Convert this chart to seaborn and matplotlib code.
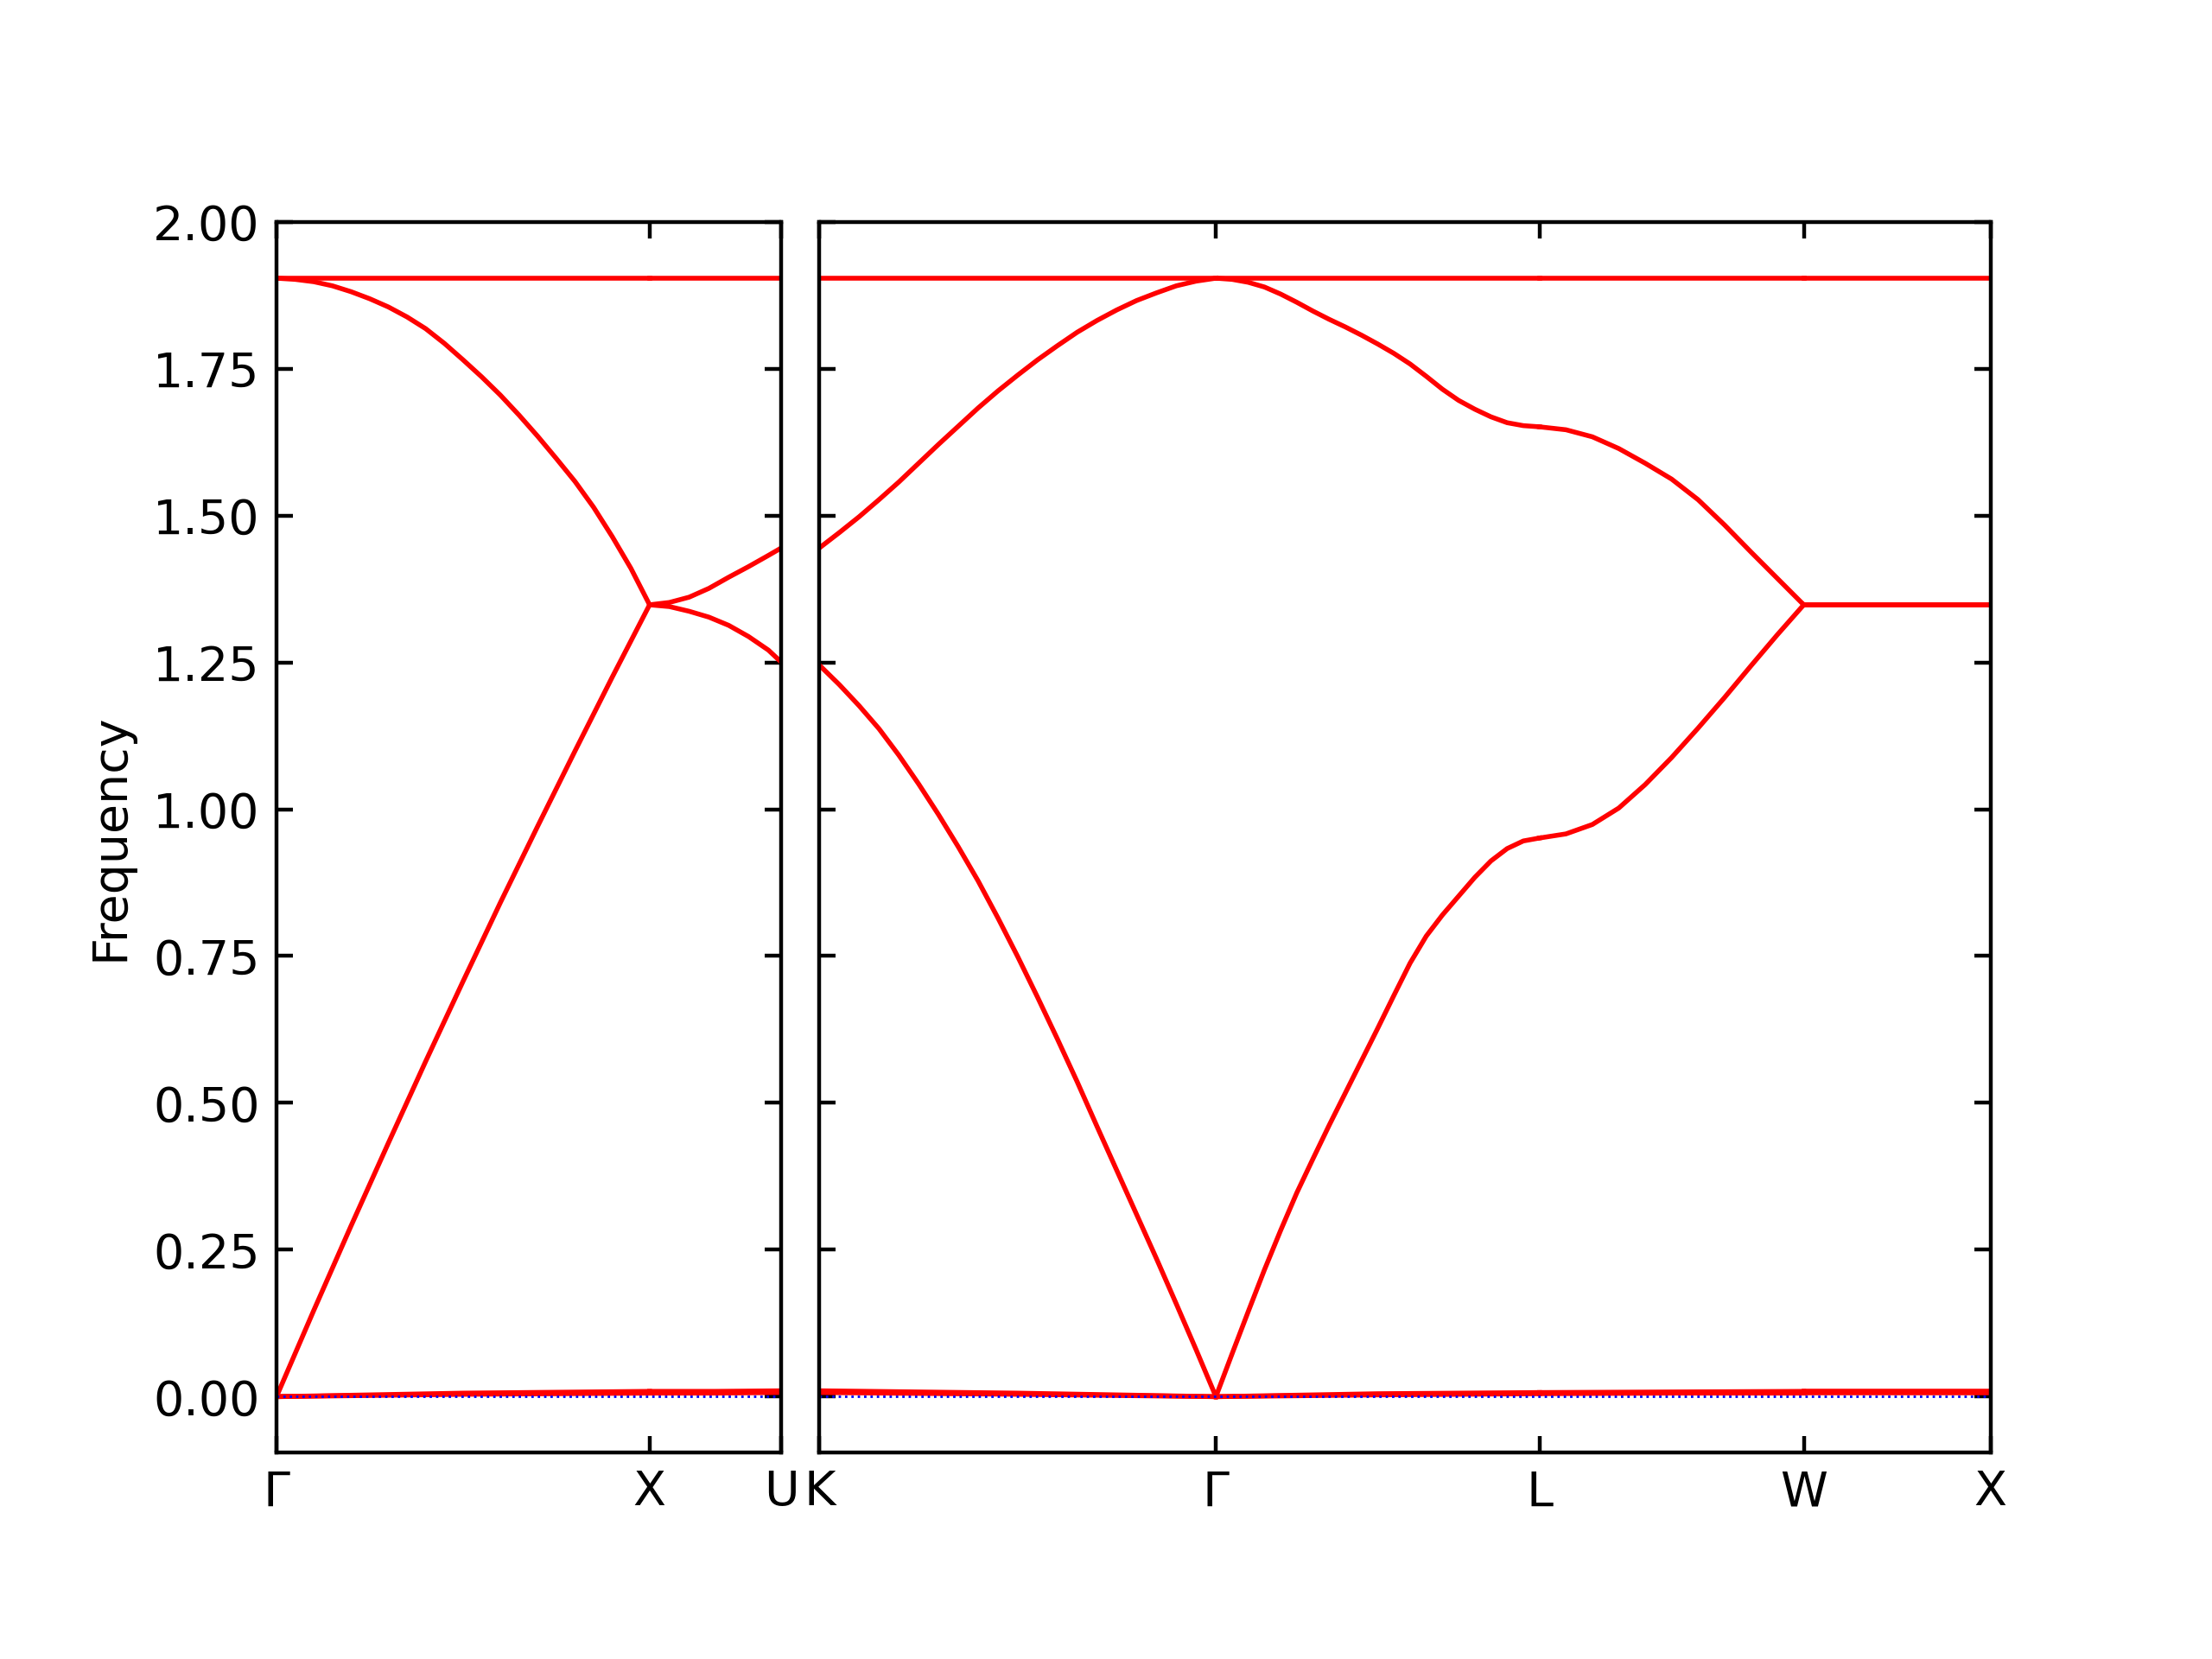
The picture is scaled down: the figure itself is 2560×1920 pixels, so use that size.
import numpy as np
import pandas as pd
import matplotlib
matplotlib.use("Agg")
import matplotlib.pyplot as plt
import seaborn as sns

# -------------------------
# Band path (reciprocal-space segment lengths)
# -------------------------
seg_names = ["G-X", "X-U", "K-G", "G-L", "L-W", "W-X"]
seg_length = [1.0, 0.3536, 1.0607, 0.8660, 0.7071, 0.5]
seg_panel = [0, 0, 1, 1, 1, 1]
panel_labels = [["Γ", "X", "U"], ["K", "Γ", "L", "W", "X"]]

# -------------------------
# Frequencies read along each segment (fraction of segment -> value)
# -------------------------
step05 = [0.0, 0.05, 0.10, 0.15, 0.20, 0.25, 0.30, 0.35, 0.40, 0.45, 0.50,
          0.55, 0.60, 0.65, 0.70, 0.75, 0.80, 0.85, 0.90, 0.95, 1.0]
step10 = [0.0, 0.1, 0.2, 0.3, 0.4, 0.5, 0.6, 0.7, 0.8, 0.9, 1.0]

gx_mid = [0.0, 0.147, 0.291, 0.432, 0.571, 0.707, 0.841, 0.971, 1.099, 1.225, 1.348]
gx_up = [1.904, 1.902, 1.898, 1.891, 1.881, 1.869, 1.855, 1.838, 1.818, 1.793, 1.765,
         1.736, 1.705, 1.671, 1.635, 1.597, 1.558, 1.514, 1.464, 1.410, 1.348]

xu_frac = [0.0, 0.15, 0.3, 0.45, 0.6, 0.75, 0.9, 1.0]
xu_mid = [1.348, 1.345, 1.337, 1.327, 1.313, 1.294, 1.271, 1.250]
xu_up = [1.348, 1.352, 1.361, 1.376, 1.395, 1.413, 1.432, 1.445]

kg_mid = [1.245, 1.212, 1.176, 1.137, 1.092, 1.043, 0.991, 0.936, 0.878, 0.815, 0.749,
          0.680, 0.609, 0.536, 0.460, 0.385, 0.310, 0.235, 0.158, 0.080, 0.0]
kg_up = [1.445, 1.471, 1.498, 1.527, 1.557, 1.589, 1.621, 1.652, 1.683, 1.712, 1.739,
         1.765, 1.789, 1.812, 1.832, 1.850, 1.866, 1.879, 1.891, 1.899, 1.904]

gl_mid = [0.0, 0.073, 0.145, 0.216, 0.283, 0.347, 0.405, 0.462, 0.517, 0.572, 0.627,
          0.683, 0.738, 0.784, 0.820, 0.852, 0.884, 0.912, 0.933, 0.946, 0.951]
gl_up = [1.904, 1.902, 1.897, 1.889, 1.877, 1.863, 1.848, 1.834, 1.821, 1.807, 1.792,
         1.776, 1.758, 1.737, 1.715, 1.696, 1.681, 1.668, 1.658, 1.653, 1.651]

lw_mid = [0.951, 0.958, 0.974, 1.002, 1.042, 1.088, 1.138, 1.190, 1.244, 1.297, 1.348]
lw_up = [1.651, 1.646, 1.634, 1.614, 1.589, 1.562, 1.527, 1.484, 1.438, 1.393, 1.348]

wx_frac = [0.0, 1.0]
wx_mid = [1.348, 1.348]
wx_up = [1.348, 1.348]

# near-zero acoustic bands and the flat top band (start, middle, end of segment)
low_frac = [0.0, 0.5, 1.0]
low1 = {"G-X": [0.0, 0.004, 0.006], "X-U": [0.006, 0.006, 0.007], "K-G": [0.007, 0.004, 0.0],
        "G-L": [0.0, 0.003, 0.005], "L-W": [0.005, 0.006, 0.006], "W-X": [0.006, 0.006, 0.006]}
low2 = {"G-X": [0.0, 0.006, 0.009], "X-U": [0.009, 0.009, 0.010], "K-G": [0.010, 0.006, 0.0],
        "G-L": [0.0, 0.005, 0.007], "L-W": [0.007, 0.008, 0.009], "W-X": [0.009, 0.009, 0.009]}
flat_top = 1.904

seg_bands = {
    "G-X": ((step10, gx_mid), (step05, gx_up)),
    "X-U": ((xu_frac, xu_mid), (xu_frac, xu_up)),
    "K-G": ((step05, kg_mid), (step05, kg_up)),
    "G-L": ((step05, gl_mid), (step05, gl_up)),
    "L-W": ((step10, lw_mid), (step10, lw_up)),
    "W-X": ((wx_frac, wx_mid), (wx_frac, wx_up)),
}

# -------------------------
# Build long-form table
# -------------------------
rows = []
seg_start = np.concatenate([[0.0], np.cumsum(seg_length)[:-1]])
for name, start, length, panel in zip(seg_names, seg_start, seg_length, seg_panel):
    mid, up = seg_bands[name]
    lines = {
        "low1": (low_frac, low1[name]),
        "low2": (low_frac, low2[name]),
        "mid": mid,
        "up": up,
        "flat": ([0.0, 1.0], [flat_top, flat_top]),
    }
    for band, (fr, vals) in lines.items():
        for f, v in zip(fr, vals):
            rows.append({"panel": panel, "line": name + band,
                         "dist": start + f * length, "freq": v})
df = pd.DataFrame(rows)

ends = np.cumsum(seg_length)
panel_ticks = [[0.0, ends[0], ends[1]], [ends[1], ends[2], ends[3], ends[4], ends[5]]]

# -------------------------
# Plot
# -------------------------
fig = plt.figure(figsize=(6.4, 4.8), dpi=400)
bottom, height = 0.1245, 0.7418
ax_left = fig.add_axes([0.125, bottom, 0.2283, height])
ax_right = fig.add_axes([0.3705, bottom, 0.5294, height])

yticks = np.arange(0, 2.01, 0.25)
for i, ax in enumerate([ax_left, ax_right]):
    sub = df[df["panel"] == i]
    sns.lineplot(data=sub, x="dist", y="freq", units="line", estimator=None,
                 sort=False, color="red", linewidth=1.0, ax=ax)
    ax.axhline(0, linestyle=":", linewidth=0.5, color="b")
    ax.set_xlim(panel_ticks[i][0], panel_ticks[i][-1])
    ax.set_ylim(-0.095, 2.0)
    ax.set_xticks(panel_ticks[i])
    ax.set_xticklabels(panel_labels[i])
    ax.set_yticks(yticks)
    ax.tick_params(axis="both", which="major", direction="in", top=True, right=True)
    ax.set_xlabel("")
    ax.set_ylabel("")

ax_left.set_yticklabels([f"{v:.2f}" for v in yticks])
ax_left.set_ylabel("Frequency")
ax_right.tick_params(labelleft=False)

fig.savefig("out.png", dpi=400)
